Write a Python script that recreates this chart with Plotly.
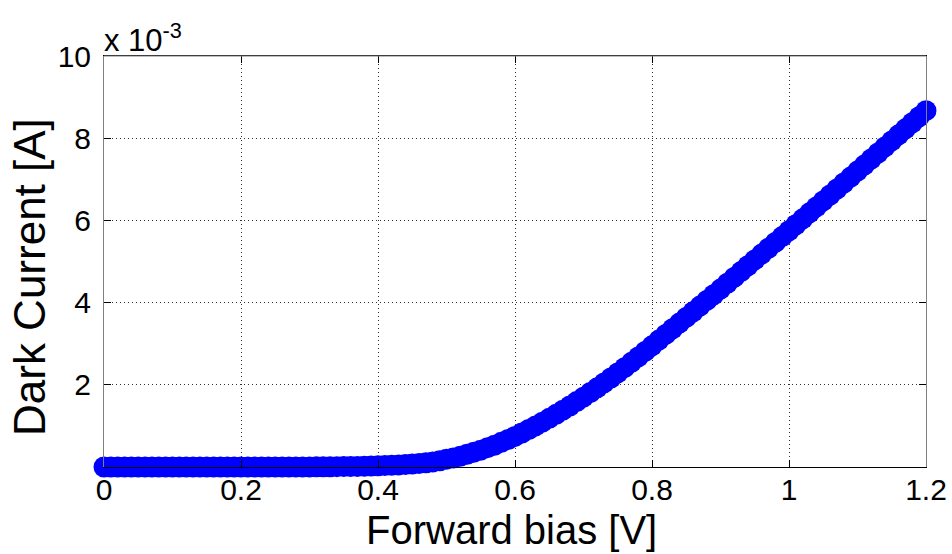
import plotly.graph_objects as go

# Forward bias sweep, 10 mV steps from 0 to 1.2 V
bias_v = [round(0.01 * i, 2) for i in range(121)]

# Measured dark current in mA (plotted on a x10^-3 A scale)
dark_current_mA = [
    0.000, 0.000, 0.000, 0.000, 0.000, 0.000, 0.000, 0.000, 0.000, 0.000,
    0.000, 0.000, 0.000, 0.000, 0.000, 0.000, 0.000, 0.000, 0.000, 0.000,
    0.000, 0.000, 0.000, 0.000, 0.000, 0.000, 0.001, 0.001, 0.002, 0.002,
    0.003, 0.004, 0.005, 0.006, 0.008, 0.010, 0.012, 0.015, 0.019, 0.024,
    0.030, 0.036, 0.043, 0.051, 0.061, 0.073, 0.087, 0.104, 0.124, 0.150,
    0.190, 0.220, 0.260, 0.310, 0.360, 0.410, 0.470, 0.530, 0.600, 0.670,
    0.745, 0.827, 0.912, 1.000, 1.091, 1.185, 1.282, 1.382, 1.485, 1.591,
    1.700, 1.812, 1.927, 2.045, 2.166, 2.290, 2.417, 2.547, 2.679, 2.813,
    2.949, 3.087, 3.225, 3.363, 3.501, 3.639, 3.777, 3.915, 4.053, 4.191,
    4.329, 4.471, 4.613, 4.755, 4.897, 5.039, 5.181, 5.323, 5.465, 5.607,
    5.749, 5.894, 6.039, 6.184, 6.329, 6.474, 6.619, 6.764, 6.909, 7.054,
    7.199, 7.346, 7.493, 7.640, 7.787, 7.934, 8.081, 8.228, 8.375, 8.522,
    8.669,
]

x_ticks = [0, 0.2, 0.4, 0.6, 0.8, 1.0, 1.2]
x_tick_text = ["0", "0.2", "0.4", "0.6", "0.8", "1", "1.2"]
y_ticks = [2, 4, 6, 8, 10]
y_tick_text = ["2", "4", "6", "8", "10"]

FONT = "Liberation Sans, Arial, Helvetica, sans-serif"

fig = go.Figure()
fig.add_trace(go.Scatter(
    x=bias_v,
    y=dark_current_mA,
    mode="markers",
    marker=dict(symbol="circle", size=21, color="#0000ff", line=dict(width=0)),
    cliponaxis=False,
    showlegend=False,
))

axis_common = dict(
    showline=True,
    mirror="ticks",
    ticks="inside",
    ticklen=7,
    tickwidth=1,
    tickcolor="black",
    showgrid=True,
    gridcolor="#333333",
    griddash="1px,3px",
    gridwidth=1,
    zeroline=False,
    layer="above traces",
    automargin=False,
    tickfont=dict(family=FONT, size=30, color="black"),
)

fig.update_xaxes(
    **axis_common,
    range=[0, 1.2],
    tickvals=x_ticks,
    ticktext=x_tick_text,
    linecolor="black",
    ticklabelstandoff=-4,
)
fig.update_yaxes(
    **axis_common,
    range=[0, 10],
    tickvals=y_ticks,
    ticktext=y_tick_text,
    linecolor="#7f7f7f",
    ticklabelstandoff=6,
)

fig.update_layout(
    width=952,
    height=554,
    margin=dict(l=104, r=26, t=56, b=87),
    paper_bgcolor="white",
    plot_bgcolor="white",
    shapes=[
        dict(type="line", xref="paper", yref="paper", x0=0, x1=1, y0=1, y1=1,
             line=dict(color="#7f7f7f", width=1), layer="above"),
    ],
    annotations=[
        # exponent multiplier for the y axis
        dict(
            text="x 10<sup>-3</sup>",
            xref="paper", yref="paper",
            x=0, y=1, xanchor="left", yanchor="bottom",
            xshift=-2, yshift=-4,
            showarrow=False,
            font=dict(family=FONT, size=31, color="black"),
        ),
        # x axis title
        dict(
            text="Forward bias [V]",
            xref="paper", yref="paper",
            x=0.4957, y=-0.2092, xanchor="center", yanchor="bottom",
            showarrow=False, borderpad=0,
            font=dict(family=FONT, size=40, color="black"),
        ),
        # y axis title
        dict(
            text="Dark Current [A]",
            xref="paper", yref="paper",
            x=-0.09, y=0.4623, xanchor="center", yanchor="middle",
            textangle=-90,
            showarrow=False,
            font=dict(family=FONT, size=44, color="black"),
        ),
    ],
)

fig.write_html("out.html")
